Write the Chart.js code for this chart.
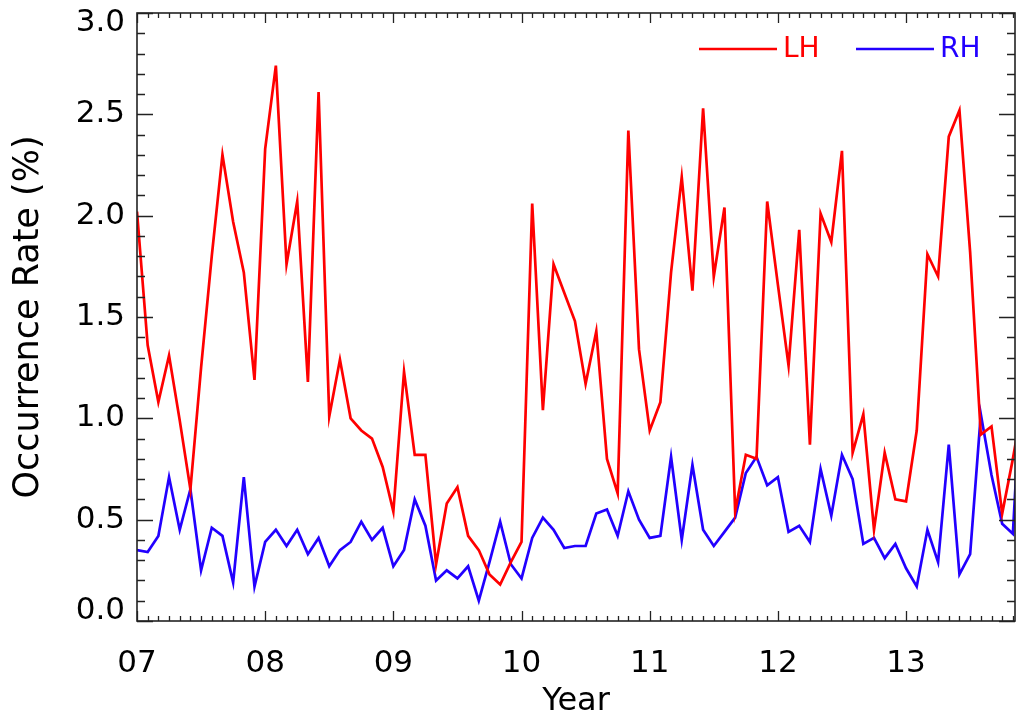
<!DOCTYPE html>
<html>
<head>
<meta charset="utf-8">
<script src="https://cdn.jsdelivr.net/npm/chart.js@4/dist/chart.umd.min.js"></script>
<style>
html,body{margin:0;padding:0;background:#fff;}
#wrap{width:1016px;height:724px;}
</style>
</head>
<body>
<div id="wrap"><canvas id="c" width="1016" height="724"></canvas></div>
<script>
// ---- data (monthly occurrence rate, %) ----
const seriesNames = ['LH', 'RH'];
const startYear = 7;           // 2007, first month
const yearLabels = ['07', '08', '09', '10', '11', '12', '13'];
const yTickLabels = ['0.0', '0.5', '1.0', '1.5', '2.0', '2.5', '3.0'];
const lhValues = [
  2.02, 1.36, 1.08, 1.31, 0.99, 0.65, 1.25, 1.80, 2.30, 1.97, 1.72, 1.19,
  2.33, 2.74, 1.76, 2.07, 1.18, 2.61, 1.01, 1.29, 1.00, 0.94, 0.90, 0.76,
  0.54, 1.23, 0.82, 0.82, 0.28, 0.58, 0.66, 0.42, 0.35, 0.23, 0.18, 0.29,
  0.39, 2.06, 1.04, 1.76, 1.62, 1.48, 1.17, 1.43, 0.80, 0.63, 2.42, 1.34,
  0.94, 1.08, 1.72, 2.19, 1.63, 2.53, 1.70, 2.04, 0.54, 0.82, 0.80, 2.07,
  1.66, 1.26, 1.93, 0.87, 2.01, 1.87, 2.32, 0.83, 1.02, 0.45, 0.83, 0.60,
  0.59, 0.94, 1.81, 1.70, 2.39, 2.52, 1.82, 0.92, 0.96, 0.53, 0.80, 1.10
];
const rhValues = [
  0.35, 0.34, 0.42, 0.71, 0.45, 0.65, 0.25, 0.46, 0.42, 0.19, 0.71, 0.17,
  0.39, 0.45, 0.37, 0.45, 0.33, 0.41, 0.27, 0.35, 0.39, 0.49, 0.40, 0.46,
  0.27, 0.35, 0.60, 0.47, 0.20, 0.25, 0.21, 0.27, 0.10, 0.29, 0.49, 0.28,
  0.21, 0.41, 0.51, 0.45, 0.36, 0.37, 0.37, 0.53, 0.55, 0.42, 0.64, 0.50,
  0.41, 0.42, 0.81, 0.40, 0.77, 0.45, 0.37, 0.44, 0.51, 0.73, 0.81, 0.67,
  0.71, 0.44, 0.47, 0.39, 0.75, 0.52, 0.82, 0.70, 0.38, 0.41, 0.31, 0.38,
  0.26, 0.17, 0.45, 0.29, 0.87, 0.23, 0.33, 1.02, 0.72, 0.48, 0.43, 1.40
];
const seriesColors = ['#ff0000', '#2200ff'];

// month positions in years (category positions)
const monthX = lhValues.map((_, i) => startYear + i / 12);
const toPoints = vals => vals.map((v, i) => ({x: monthX[i], y: v}));

const FONT = '"DejaVu Sans", "Liberation Sans", sans-serif';

// inward tick marks + frame
const framePlugin = {
  id: 'frame',
  afterDraw(chart) {
    const {ctx, chartArea: a, scales: {x, y}} = chart;
    ctx.save();
    ctx.strokeStyle = '#222';
    ctx.lineWidth = 1.3;
    for (let m = 0; ; m++) {
      const v = startYear + m / 12;
      if (v > x.max + 1e-9) break;
      const px = Math.round(x.getPixelForValue(v)) + 0.5;
      const len = (m % 12 === 0) ? 10 : 5;
      ctx.beginPath();
      ctx.moveTo(px, a.bottom); ctx.lineTo(px, a.bottom - len);
      ctx.moveTo(px, a.top); ctx.lineTo(px, a.top + len);
      ctx.stroke();
    }
    for (let k = 0; k <= 30; k++) {
      const py = Math.round(y.getPixelForValue(k / 10)) + 0.5;
      const len = (k % 5 === 0) ? 16 : 8;
      ctx.beginPath();
      ctx.moveTo(a.left, py); ctx.lineTo(a.left + len, py);
      ctx.moveTo(a.right, py); ctx.lineTo(a.right - len, py);
      ctx.stroke();
    }
    ctx.lineWidth = 1.6;
    ctx.strokeRect(a.left, a.top, a.right - a.left, a.bottom - a.top);
    ctx.restore();
  }
};

// legend drawn inside the plot, top right
const legendPlugin = {
  id: 'innerLegend',
  afterDraw(chart) {
    const {ctx} = chart;
    const starts = [699, 856];
    ctx.save();
    ctx.font = '28px ' + FONT;
    ctx.textBaseline = 'middle';
    ctx.textAlign = 'left';
    chart.data.datasets.forEach((ds, i) => {
      const x0 = starts[i], yy = 49;
      ctx.strokeStyle = ds.borderColor;
      ctx.lineWidth = 2.4;
      ctx.beginPath();
      ctx.moveTo(x0, yy); ctx.lineTo(x0 + 78, yy);
      ctx.stroke();
      ctx.fillStyle = ds.borderColor;
      ctx.fillText(ds.label, x0 + 84, yy + 1);
    });
    ctx.restore();
  }
};

new Chart(document.getElementById('c'), {
  type: 'line',
  data: {
    datasets: [
      {label: seriesNames[0], data: toPoints(lhValues), borderColor: seriesColors[0],
       backgroundColor: seriesColors[0], borderWidth: 2.7, pointRadius: 0, tension: 0, clip: 0},
      {label: seriesNames[1], data: toPoints(rhValues), borderColor: seriesColors[1],
       backgroundColor: seriesColors[1], borderWidth: 2.7, pointRadius: 0, tension: 0, clip: 0}
    ]
  },
  options: {
    responsive: false,
    animation: false,
    devicePixelRatio: 1,
    layout: {padding: {top: 13, right: 1, left: 0, bottom: 0}},
    plugins: {legend: {display: false}, tooltip: {enabled: false}},
    scales: {
      x: {
        type: 'linear', min: 7, max: 13.85,
        grid: {display: false, drawTicks: false},
        border: {display: false},
        ticks: {
          stepSize: 1, includeBounds: false, autoSkip: false, maxRotation: 0,
          padding: 24, color: '#000', font: {family: FONT, size: 31},
          callback: v => (Number.isInteger(v) ? yearLabels[v - startYear] : '')
        },
        title: {display: true, text: 'Year', color: '#000',
                font: {family: FONT, size: 32}, padding: {top: 0, bottom: 3}},
        afterFit: s => { s.height = 103; s.paddingLeft = 0; s.paddingRight = 0; }
      },
      y: {
        min: 0, max: 3,
        grid: {display: false, drawTicks: false},
        border: {display: false},
        ticks: {
          stepSize: 0.5, autoSkip: false, padding: 12, color: '#000',
          font: {family: FONT, size: 31, lineHeight: 0.66},
          callback: (v) => {
            const idx = Math.round(v / 0.5);
            const lab = yTickLabels[idx];
            if (idx === 0) return [lab, ''];
            if (idx === yTickLabels.length - 1) return ['', lab];
            return lab;
          }
        },
        title: {display: true, text: 'Occurrence Rate (%)', color: '#000',
                font: {family: FONT, size: 35}, padding: {top: 8, bottom: 0}},
        afterFit: s => { s.width = 137; s.paddingTop = 0; s.paddingBottom = 0; }
      }
    }
  },
  plugins: [framePlugin, legendPlugin]
});
</script>
</body>
</html>
